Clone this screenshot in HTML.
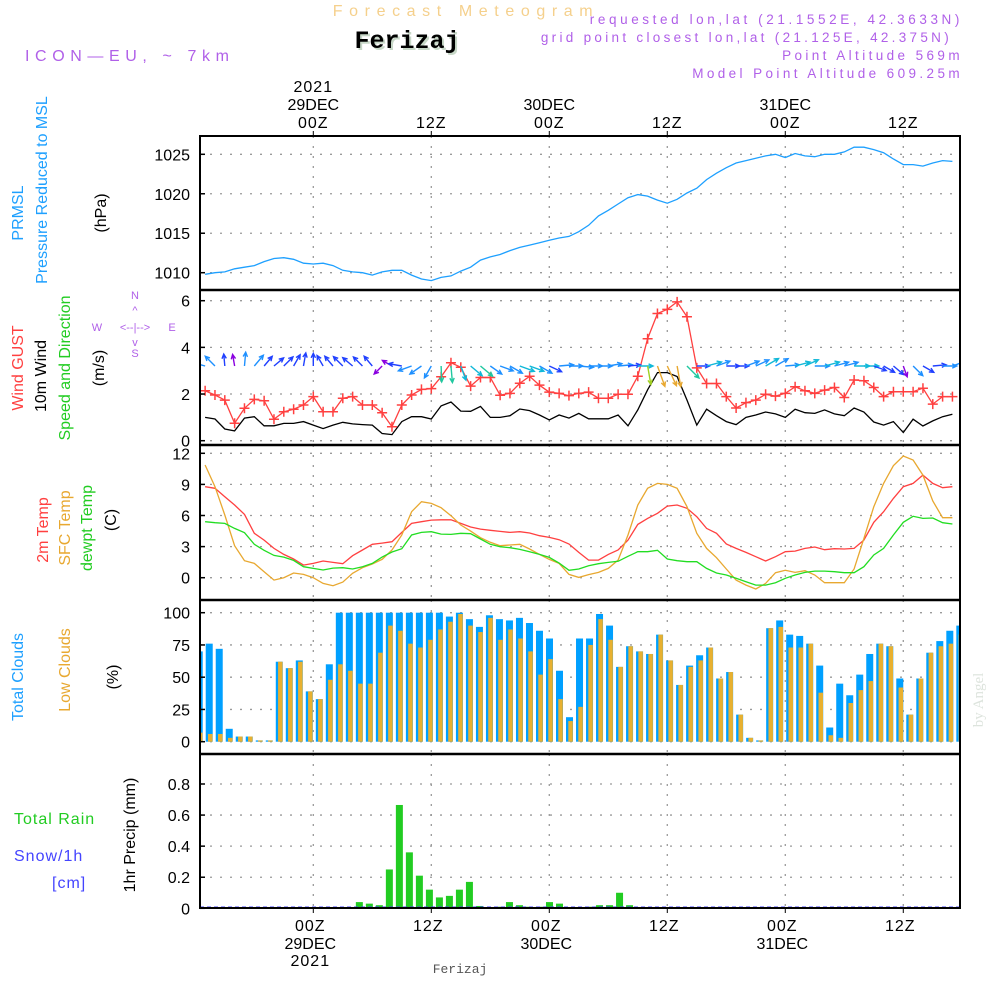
<!DOCTYPE html>
<html><head><meta charset="utf-8"><style>
body{margin:0;background:#fff}
svg{display:block;font-family:"Liberation Sans",sans-serif}
</style></head><body>
<svg id="c" width="1000" height="1000" viewBox="0 0 1000 1000">
<rect width="1000" height="1000" fill="#fff"/>
<g>
<text x="466" y="16" text-anchor="middle" font-size="16" fill="#f5d08c" letter-spacing="6.6">Forecast Meteogram</text>
<text x="409" y="50" text-anchor="middle" font-size="25" font-weight="bold" font-family="Liberation Mono,monospace" fill="#c8d8c8">Ferizaj</text>
<text x="407" y="48" text-anchor="middle" font-size="25" font-weight="bold" font-family="Liberation Mono,monospace" fill="#000">Ferizaj</text>
<text x="25" y="61" font-size="16" fill="#b060e8" letter-spacing="5.6">ICON—EU, ~ 7km</text>
<text x="963" y="24" text-anchor="end" font-size="13.5" fill="#b060e8" letter-spacing="3.6">requested lon,lat (21.1552E, 42.3633N)</text>
<text x="952" y="42" text-anchor="end" font-size="13.5" fill="#b060e8" letter-spacing="3.3">grid point closest lon,lat (21.125E, 42.375N)</text>
<text x="963" y="60" text-anchor="end" font-size="13.5" fill="#b060e8" letter-spacing="3.4">Point Altitude 569m</text>
<text x="963" y="78" text-anchor="end" font-size="13.5" fill="#b060e8" letter-spacing="3.4">Model Point Altitude 609.25m</text>
</g>
<g id="grid"></g>
<g id="marks"></g>
<g id="frame"></g>
<g id="labels" font-size="16" fill="#000"></g>
<g font-size="16">
<text transform="translate(23,213) rotate(-90)" text-anchor="middle" fill="#1ea0ff">PRMSL</text>
<text transform="translate(47,190) rotate(-90)" text-anchor="middle" fill="#1ea0ff">Pressure Reduced to MSL</text>
<text transform="translate(106,213) rotate(-90)" text-anchor="middle" fill="#000">(hPa)</text>
<text transform="translate(23,368) rotate(-90)" text-anchor="middle" fill="#ff4040">Wind GUST</text>
<text transform="translate(46,376) rotate(-90)" text-anchor="middle" fill="#000">10m Wind</text>
<text transform="translate(70,368) rotate(-90)" text-anchor="middle" fill="#22cc22">Speed and Direction</text>
<text transform="translate(104,368) rotate(-90)" text-anchor="middle" fill="#000">(m/s)</text>
<g font-size="11" fill="#b060e8">
<text x="97" y="331" text-anchor="middle">W</text><text x="172" y="331" text-anchor="middle">E</text>
<text x="135" y="299" text-anchor="middle">N</text><text x="135" y="357" text-anchor="middle">S</text>
<text x="135" y="331" text-anchor="middle">&lt;--|--&gt;</text>
<text x="135" y="314" text-anchor="middle">^</text><text x="135" y="346" text-anchor="middle">v</text>
</g>
<text transform="translate(48,530) rotate(-90)" text-anchor="middle" fill="#ff4040">2m Temp</text>
<text transform="translate(70,528) rotate(-90)" text-anchor="middle" fill="#e8a830">SFC Temp</text>
<text transform="translate(92,528) rotate(-90)" text-anchor="middle" fill="#22cc22">dewpt Temp</text>
<text transform="translate(116,520) rotate(-90)" text-anchor="middle" fill="#000">(C)</text>
<text transform="translate(23,677) rotate(-90)" text-anchor="middle" fill="#1ea0ff">Total Clouds</text>
<text transform="translate(70,670) rotate(-90)" text-anchor="middle" fill="#e8a830">Low Clouds</text>
<text transform="translate(118,677) rotate(-90)" text-anchor="middle" fill="#000">(%)</text>
<text x="14" y="824" fill="#22cc22" letter-spacing="1">Total  Rain</text>
<text x="14" y="861" fill="#4444ff" letter-spacing="1">Snow/1h</text>
<text x="52" y="888" fill="#4444ff" letter-spacing="1">[cm]</text>
<text transform="translate(135,835) rotate(-90)" text-anchor="middle" fill="#000">1hr Precip (mm)</text>
<text transform="translate(983,700) rotate(-90)" text-anchor="middle" fill="#dde4dd" font-family="Liberation Serif,serif" font-size="15">by Angel</text>
<text x="460" y="973" text-anchor="middle" fill="#555" font-family="Liberation Mono,monospace" font-size="13">Ferizaj</text>
</g>
</svg>
<script>
const hours=[];for(let h=-11;h<=65;h++)hours.push(h);
const pressure=[1009.8,1010.0,1010.1,1010.5,1010.7,1010.9,1011.4,1011.8,1011.9,1011.7,1011.2,1011.1,1011.2,1010.9,1010.3,1010.1,1010.0,1009.7,1010.1,1010.3,1010.3,1009.7,1009.2,1009.0,1009.4,1009.6,1010.2,1010.7,1011.6,1012.0,1012.3,1012.8,1013.2,1013.5,1013.8,1014.1,1014.4,1014.6,1015.2,1016.0,1017.2,1017.9,1018.7,1019.5,1019.9,1019.7,1019.2,1018.8,1019.3,1020.1,1020.7,1021.8,1022.6,1023.3,1023.9,1024.2,1024.5,1024.8,1025.0,1024.6,1025.1,1024.8,1024.7,1025.0,1025.0,1025.3,1025.9,1025.9,1025.6,1025.2,1024.4,1023.7,1023.7,1023.5,1023.9,1024.2,1024.1];
const gust=[2.14,1.96,1.74,0.75,1.39,1.77,1.71,0.92,1.24,1.35,1.53,1.89,1.24,1.24,1.82,1.89,1.53,1.53,1.20,0.60,1.53,1.96,2.20,2.23,2.74,3.34,3.15,2.34,2.71,2.71,1.95,2.03,2.46,2.76,2.38,2.08,2.03,1.93,2.03,2.08,1.82,1.82,1.99,1.99,2.76,4.37,5.45,5.63,5.95,5.31,3.12,2.45,2.45,1.89,1.40,1.63,1.74,1.99,1.91,2.03,2.31,2.14,2.03,2.17,2.28,1.85,2.60,2.57,2.28,1.89,2.10,2.10,2.10,2.25,1.57,1.89,1.89];
const speed=[1.00,0.93,0.50,0.42,0.97,1.03,0.64,0.64,0.74,0.74,0.82,0.67,0.52,0.67,0.79,0.72,0.69,0.67,0.31,0.26,0.82,1.03,1.03,0.93,1.49,1.66,1.27,1.26,1.47,1.00,1.00,1.07,1.36,1.29,1.10,0.89,1.10,0.97,1.17,0.94,0.94,0.94,1.10,0.64,1.32,2.18,2.92,2.92,2.75,1.74,0.67,1.35,1.07,0.82,0.69,1.00,1.10,1.23,1.15,1.00,1.35,1.20,1.17,1.32,1.15,1.07,1.40,1.23,0.80,0.67,0.82,0.35,0.92,0.63,0.85,1.03,1.13];
const windDir=[165,135,95,100,85,50,50,40,45,60,80,90,120,130,135,140,135,130,225,150,170,200,215,240,272,275,290,320,320,325,340,330,340,340,330,335,5,0,355,0,0,10,5,5,0,280,290,295,280,315,0,15,20,0,0,20,25,30,30,5,15,25,0,15,15,15,0,0,340,330,320,290,315,330,5,0,20];
const temp2m=[8.78,8.62,7.81,7.01,6.11,4.28,3.63,2.83,2.25,1.80,1.22,1.38,1.61,1.48,1.35,2.12,2.67,3.22,3.34,3.47,4.37,5.24,5.40,5.56,5.59,5.59,5.24,4.89,4.69,4.57,4.47,4.37,4.44,4.31,4.05,3.89,3.67,3.25,2.44,1.70,1.70,2.25,2.67,3.63,5.14,5.72,6.21,6.91,7.01,6.69,5.88,4.76,4.28,3.25,2.83,2.44,2.03,1.61,2.03,2.51,2.57,2.83,2.96,2.70,2.80,2.77,2.83,3.63,5.34,6.37,7.65,8.78,9.10,9.90,9.10,8.68,8.78];
const sfcTemp=[10.87,8.78,6.05,3.09,1.64,1.38,0.58,-0.23,0,0.45,0.32,0,-0.55,-0.77,-0.42,0.42,0.96,1.32,1.77,2.67,4.12,6.37,7.33,7.17,6.75,5.98,5.08,4.50,3.86,3.41,3.09,3.15,3.22,2.77,2.25,1.77,1.38,0.32,0.03,0.3,0.51,0.90,1.70,4.12,7.01,8.62,9.10,9.00,8.62,6.85,4.28,2.83,1.93,0.84,-0.23,-0.71,-1.09,-0.55,0.48,0.71,0.51,0.68,0.26,-0.48,-0.48,-0.48,0.84,3.79,6.85,9.10,10.80,11.74,11.35,9.90,7.40,5.79,5.79];
const dewTemp=[5.40,5.31,5.24,4.76,4.34,3.22,2.64,2.15,1.99,1.67,1.06,0.90,0.74,0.93,0.96,0.84,1.06,1.38,1.99,2.48,2.80,4.12,4.37,4.44,4.21,4.18,4.28,4.24,3.73,3.22,2.99,2.89,2.73,2.51,2.25,1.96,1.41,0.71,0.84,1.16,1.35,1.48,1.58,2.06,2.51,2.51,2.64,1.80,1.64,1.54,1.54,0.90,0.45,0.26,-0.06,-0.39,-0.71,-0.71,-0.48,-0.06,0.26,0.51,0.64,0.64,0.58,0.48,0.48,1.06,2.19,2.83,4.12,5.34,5.92,5.72,5.76,5.31,5.18];
const totalClouds=[70,76,72,10,4,4,1,1,62,57,63,39,33,60,100,100,100,100,100,100,100,100,100,100,100,97,100,95,89,98,95,94,96,92,86,80,55,19,80,80,99,90,58,74,70,68,83,63,44,59,67,73,49,54,21,3,1,88,94,83,82,76,59,11,45,36,52,68,76,74,49,21,49,69,78,86,90];
const lowClouds=[7,6,6,3,4,4,1,1,62,57,62,39,33,48,60,55,45,45,69,90,86,76,73,79,87,93,99,90,85,96,79,87,80,70,52,64,33,16,27,75,95,79,58,74,70,68,83,63,44,58,63,73,49,54,21,3,1,88,89,73,73,76,38,5,3,30,40,47,76,74,42,21,49,69,74,76,83];
const precipHours=[5,6,7,8,9,10,11,12,13,14,15,16,17,18,19,20,21,22,23,24,25,28,29,30,31,32];
const precipVals=[0.04,0.03,0.02,0.25,0.665,0.36,0.21,0.12,0.07,0.08,0.12,0.17,0.015,0.005,0.01,0.04,0.02,0.01,0.01,0.04,0.03,0.01,0.02,0.02,0.10,0.02];
const timeTicks=[0,12,24,36,48,60];
const timeTickLabels=["00Z","12Z","00Z","12Z","00Z","12Z"];
const dateLabels=["29DEC","","30DEC","","31DEC",""];
const pTicks=[1010,1015,1020,1025];
const wTicks=[0,2,4,6];
const tTicks=[0,3,6,9,12];
const cTicks=[0,25,50,75,100];
const rTicks=[0,0.2,0.4,0.6,0.8];
const rTickLabels=["0","0.2","0.4","0.6","0.8"];

const NS="http://www.w3.org/2000/svg";
const X0=200,X1=960;
const xT=t=>313.3+t*9.833;
const xB=t=>309.3+t*10.008;
const lin=(v0,y0,v1,y1)=>v=>y0+(v-v0)*(y1-y0)/(v1-v0);
const yP=lin(1010,272.7,1025,154.3);
const yW=lin(0,440.7,6,300.7);
const yTm=lin(0,577.7,12,453.3);
const yC=lin(0,741.7,100,612.7);
const yR=lin(0,908.3,0.8,784);
const panels=[[136,290,pTicks,yP,null],[290,445,wTicks,yW,null],[445,600,tTicks,yTm,null],[600,754,cTicks,yC,null],[754,908,rTicks,yR,rTickLabels]];
function el(tag,attrs,parent){const e=document.createElementNS(NS,tag);for(const k in attrs)e.setAttribute(k,attrs[k]);parent.appendChild(e);return e;}
const G=document.getElementById('grid'),M=document.getElementById('marks'),F=document.getElementById('frame'),L=document.getElementById('labels');
panels.forEach((p,pi)=>{
  p[2].forEach((v,i)=>{
    const y=p[3](v);
    const g=el('line',{x1:X0,x2:X1,y1:y,y2:y,stroke:'#9a9a9a','stroke-width':1.3,'stroke-dasharray':'2 8'},G);
    
    
    el('line',{x1:X0,x2:X0+5,y1:y,y2:y,stroke:'#000','stroke-width':1.5},F);
    const tl=el('text',{x:190,y:y+6,'text-anchor':'end','font-size':16},L);
    tl.textContent=p[4]?p[4][i]:String(v);
    
    
  });
  timeTicks.forEach(t=>{
    const x=xT(t);
    const g=el('line',{x1:x,x2:x,y1:p[0],y2:p[1],stroke:'#9a9a9a','stroke-width':1.3,'stroke-dasharray':'2 8'},G);
    
    
  });
});
function line(vals,yf,color,name,w){
  const d=vals.map((v,i)=>(i?'L':'M')+xT(hours[i]).toFixed(1)+','+yf(v).toFixed(1)).join('');
  const p=el('path',{d:d,fill:'none',stroke:color,'stroke-width':w||1.3},M);
  
  
}
const clip=el('clipPath',{id:'cp'},M);el('rect',{x:X0,y:136,width:X1-X0,height:772},clip);
line(pressure,yP,'#1ea0ff','pressure-line');
totalClouds.forEach((v,i)=>{
  const c=xB(hours[i]);
  const r=el('rect',{x:c-3.5,y:yC(v),width:7,height:yC(0)-yC(v),fill:'#00a0ff','clip-path':'url(#cp)'},M);
  
  
  const o=el('rect',{x:c-1.2,y:yC(lowClouds[i]),width:4.5,height:yC(0)-yC(lowClouds[i]),fill:'#e8b030','clip-path':'url(#cp)'},M);
  
  
});
precipVals.forEach((v,i)=>{
  const c=xB(precipHours[i]);
  const r=el('rect',{x:c-3.5,y:yR(v),width:7,height:yR(0)-yR(v),fill:'#22cc22'},M);
  
  
});
line(speed,yW,'#000','wind-speed-line');
line(gust,yW,'#ff4040','gust-line');
gust.forEach((v,i)=>{
  const x=xT(hours[i]),y=yW(v);
  const m=el('path',{d:`M${x-5},${y}H${x+5}M${x},${y-5}V${y+5}`,stroke:'#ff4040','stroke-width':1.5},M);
  
  
});
function wcol(s){return s<0.5?'#8a00e0':s<0.9?'#2040ff':s<1.2?'#1e90ff':s<1.45?'#10b8d8':s<1.9?'#20c8a0':s<2.4?'#a0d020':'#e8a830';}
windDir.forEach((d,i)=>{
  const x=xT(hours[i]),y=366,s=speed[i],len=10+4*s,a=d*Math.PI/180;
  const x2=x+len*Math.cos(a),y2=y-len*Math.sin(a);
  const h1=a+Math.PI-0.45,h2=a+Math.PI+0.45;
  const p=el('path',{d:`M${x},${y}L${x2},${y2}M${x2+5*Math.cos(h1)},${y2-5*Math.sin(h1)}L${x2},${y2}L${x2+5*Math.cos(h2)},${y2-5*Math.sin(h2)}`,fill:'none',stroke:wcol(s),'stroke-width':1.4,'clip-path':'url(#cp)'},M);
  
  
});
line(temp2m,yTm,'#ff4040','temp-2m-line');
line(sfcTemp,yTm,'#e8a830','sfc-temp-line');
line(dewTemp,yTm,'#22dd22','dewpoint-line');
const sn=el('line',{x1:X0,x2:X1,y1:907,y2:907,stroke:'#4444ff','stroke-width':1,'stroke-dasharray':'4 3'},M);


el('rect',{x:X0,y:136,width:X1-X0,height:772,fill:'none',stroke:'#000','stroke-width':2},F);
[290,445,600,754].forEach(y=>{const l=el('line',{x1:X0,x2:X1,y1:y,y2:y,stroke:'#000','stroke-width':2.5},F);
  
  });
timeTicks.forEach((t,i)=>{
  const x=xT(t);
  el('line',{x1:x,x2:x,y1:136,y2:131,stroke:'#000'},F);
  el('line',{x1:x,x2:x,y1:908,y2:913,stroke:'#000'},F);
  const a=el('text',{x:x,y:128,'text-anchor':'middle','letter-spacing':1},L);a.textContent=timeTickLabels[i];
  
  
  const b=el('text',{x:x-3,y:931,'text-anchor':'middle','letter-spacing':1},L);b.textContent=timeTickLabels[i];
  
  
  if(dateLabels[i]){
    const c=el('text',{x:x,y:110,'text-anchor':'middle'},L);c.textContent=dateLabels[i];
    
    
    const e=el('text',{x:x-3,y:949,'text-anchor':'middle'},L);e.textContent=dateLabels[i];
    
    
  }
});
const y1=el('text',{x:xT(0),y:92,'text-anchor':'middle','letter-spacing':1},L);y1.textContent='2021';


const y2=el('text',{x:xT(0)-3,y:966,'text-anchor':'middle','letter-spacing':1},L);y2.textContent='2021';


</script>
</body></html>
